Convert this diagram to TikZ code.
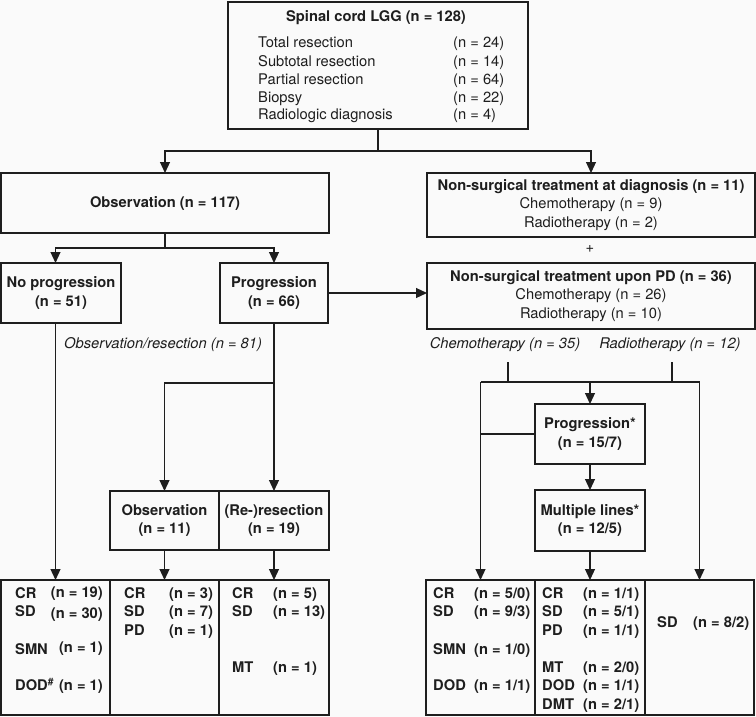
\documentclass[tikz,border=0pt]{standalone}
\usepackage{fontspec}
\setmainfont{TeX Gyre Heros}
\usetikzlibrary{arrows.meta,calc}
\definecolor{ink}{RGB}{30,30,30}
\definecolor{bg}{RGB}{250,250,250}
\newcommand\myfs{\fontsize{14.7}{18.5}\selectfont}
\begin{document}
\begin{tikzpicture}[x=1pt,y=-1pt,
  every node/.style={font=\myfs, text=ink},
  box/.style={draw=ink, line width=1.2pt, inner sep=0pt, outer sep=0pt, align=center},
  bbox/.style={box, font=\myfs\bfseries},
  conn/.style={draw=ink, line width=1.2pt},
  arr/.style={conn, -{Triangle[length=11pt,width=10pt]}},
  lab/.style={anchor=base west, inner sep=0pt, font=\myfs\bfseries},
  labr/.style={anchor=base east, inner sep=0pt, font=\myfs\bfseries},
  tl/.style={anchor=base west, inner sep=0pt},
  ital/.style={inner sep=0pt, font=\myfs\itshape}]
\fill[bg] (0,0) rectangle (756,717);
\useasboundingbox (0,0) rectangle (756,717);

% top box
\node[box, minimum width=300, minimum height=127] (top) at (378,65.5) {};
\node[anchor=base, inner sep=0pt, font=\myfs\bfseries] (title) at (376,22) {Spinal cord LGG (n = 128)};
\node[tl] (t1) at (258,48) {Total resection};
\node[tl] (t2) at (258,66.5) {Subtotal resection};
\node[tl] (t3) at (258,84.5) {Partial resection};
\node[tl] (t4) at (258,102.5) {Biopsy};
\node[tl] (t5) at (258,120) {Radiologic diagnosis};
\node[tl] (n1) at (453,48) {(n = 24)};
\node[tl] (n2) at (453,66.5) {(n = 14)};
\node[tl] (n3) at (453,84.5) {(n = 64)};
\node[tl] (n4) at (453,102.5) {(n = 22)};
\node[tl] (n5) at (453,120) {(n = 4)};

% second level
\node[bbox, minimum width=328, minimum height=60] (obs) at (165,203) {Observation (n = 117)};
\node[box, minimum width=328, minimum height=64] (nsd) at (591,205)
  {{\bfseries Non-surgical treatment at diagnosis (n = 11)}\\Chemotherapy (n = 9)\\Radiotherapy (n = 2)};
\node[inner sep=0pt] (plus) at (590,249) {+};
\node[box, minimum width=328, minimum height=66] (nsp) at (591,296)
  {{\bfseries Non-surgical treatment upon PD (n = 36)}\\Chemotherapy (n = 26)\\Radiotherapy (n = 10)};

% third level
\node[bbox, minimum width=120, minimum height=60] (noprog) at (61,293) {No progression\\(n = 51)};
\node[bbox, minimum width=108, minimum height=60] (prog) at (274,293) {Progression\\(n = 66)};

\node[ital, anchor=base west] (obsres) at (64,348) {Observation/resection (n = 81)};
\node[ital] (chemo) at (505,345) {Chemotherapy (n = 35)};
\node[ital] (radio) at (670,345) {Radiotherapy (n = 12)};

\node[bbox, minimum width=109, minimum height=59] (obs11) at (164.5,520.5) {Observation\\(n = 11)};
\node[bbox, minimum width=110, minimum height=59] (reres) at (274,520.5) {(Re-)resection\\(n = 19)};

\node[bbox, minimum width=110, minimum height=60] (progstar) at (590,434) {Progression*\\(n = 15/7)};
\node[bbox, minimum width=110, minimum height=61] (mult) at (590,520.5) {Multiple lines*\\(n = 12/5)};

% bottom boxes
\node[box, minimum width=109, minimum height=135] (res1) at (55.5,647.5) {};
\node[box, minimum width=109, minimum height=135] (res2) at (164.5,647.5) {};
\node[box, minimum width=110, minimum height=135] (res3) at (274,647.5) {};
\node[box, minimum width=109, minimum height=135] (rres1) at (480.5,647.5) {};
\node[box, minimum width=110, minimum height=135] (rres2) at (590,647.5) {};
\node[box, minimum width=109, minimum height=135] (rres3) at (699.5,647.5) {};

% bottom contents
\node[lab] (a1) at (15,598) {CR};
\node[labr] (a1n) at (103,597) {(n = 19)};
\node[lab] (a2) at (15,616.5) {SD};
\node[labr] (a2n) at (103,618) {(n = 30)};
\node[lab] (a3) at (15,654) {SMN};
\node[labr] (a3n) at (103,652.5) {(n = 1)};
\node[lab] (a4) at (15,690.5) {DOD\textsuperscript{\#}};
\node[labr] (a4n) at (103,690.5) {(n = 1)};

\node[lab] (b1) at (124,598) {CR};
\node[lab] (b1n) at (169,598) {(n = 3)};
\node[lab] (b2) at (124,616.5) {SD};
\node[lab] (b2n) at (169,616.5) {(n = 7)};
\node[lab] (b3) at (124,635) {PD};
\node[lab] (b3n) at (169,635) {(n = 1)};

\node[lab] (c1l) at (232,598) {CR};
\node[lab] (c1n) at (273,598) {(n = 5)};
\node[lab] (c2l) at (232,616.5) {SD};
\node[lab] (c2n) at (273,616.5) {(n = 13)};
\node[lab] (c3l) at (232,672) {MT};
\node[lab] (c3n) at (273,672) {(n = 1)};

\node[lab] (d1) at (433,598) {CR};
\node[lab] (d1n) at (474,598) {(n = 5/0)};
\node[lab] (d2) at (433,616.5) {SD};
\node[lab] (d2n) at (474,616.5) {(n = 9/3)};
\node[lab] (d3) at (433,654) {SMN};
\node[lab] (d3n) at (474,654) {(n = 1/0)};
\node[lab] (d4) at (433,690.5) {DOD};
\node[lab] (d4n) at (474,690.5) {(n = 1/1)};

\node[lab] (e1) at (542,598) {CR};
\node[lab] (e1n) at (583,598) {(n = 1/1)};
\node[lab] (e2) at (542,616.5) {SD};
\node[lab] (e2n) at (583,616.5) {(n = 5/1)};
\node[lab] (e3) at (542,635) {PD};
\node[lab] (e3n) at (583,635) {(n = 1/1)};
\node[lab] (e4) at (542,672) {MT};
\node[lab] (e4n) at (583,672) {(n = 2/0)};
\node[lab] (e5) at (542,690.5) {DOD};
\node[lab] (e5n) at (583,690.5) {(n = 1/1)};
\node[lab] (e6) at (542,709) {DMT};
\node[lab] (e6n) at (583,709) {(n = 2/1)};

\node[lab] (f1) at (657,627) {SD};
\node[lab] (f1n) at (693,627) {(n = 8/2)};

% connectors
\coordinate (j1) at (378,151);
\draw[conn] (top.south) -- (j1);
\draw[arr] (j1) -| (obs.north);
\draw[arr] (j1) -| (nsd.north);

\coordinate (j2) at (165,248);
\draw[conn] (obs.south) -- (j2);
\draw[arr] (j2) -| (res1.north |- noprog.north);
\draw[arr] (j2) -| (prog.north);
\draw[arr] (prog.east) -- (prog.east -| nsp.west);
\draw[arr] (noprog.south -| res1.north) -- (res1.north);

\coordinate (j3) at (274,383);
\draw[arr] (prog.south) -- (reres.north);
\draw[arr] (j3) -| (obs11.north);
\draw[arr] (obs11.south) -- (res2.north);
\draw[arr] (reres.south) -- (res3.north);

\coordinate (ct) at (508,362);
\coordinate (cb) at (508,382);
\coordinate (rt) at (672,362);
\coordinate (rb) at (672,382);
\coordinate (hl) at (rres1.north |- cb);
\coordinate (hr) at (rres3.north |- cb);
\coordinate (hm) at (progstar.north |- cb);
\draw[conn] (ct) -- (cb);
\draw[conn] (rt) -- (rb);
\draw[conn] (hl) -- (hr);
\draw[arr] (hm) -- (progstar.north);
\draw[arr] (hl) -- (rres1.north);
\draw[arr] (hr) -- (rres3.north);
\draw[conn] (progstar.west) -- (progstar.west -| hl);
\draw[arr] (progstar.south) -- (mult.north);
\draw[arr] (mult.south) -- (rres2.north);
\end{tikzpicture}
\end{document}
